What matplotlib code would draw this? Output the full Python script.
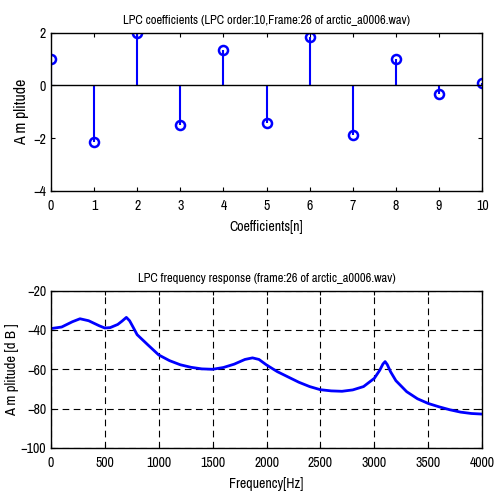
"""LPC coefficients stem plot and LPC frequency response."""

import matplotlib
matplotlib.use("Agg")
import matplotlib.pyplot as plt
import numpy as np

plt.rcParams["font.family"] = ["Archivo Narrow", "Roboto Condensed", "DejaVu Sans"]

# LPC coefficients (frame 26)
coef_idx = np.arange(0, 11)
coef_vals = [1.0, -2.14, 2.0, -1.48, 1.34, -1.44, 1.83, -1.86, 1.0, -0.33, 0.11]

# frequency response
freq_hz = [0, 100, 200, 270, 350, 450, 500, 550, 620, 660, 700, 730, 760, 800,
           900, 1000, 1100, 1200, 1300, 1400, 1500, 1600, 1700, 1800, 1870,
           1930, 2000, 2100, 2200, 2300, 2400, 2500, 2600, 2700, 2800, 2900,
           3000, 3050, 3080, 3100, 3120, 3150, 3200, 3300, 3400, 3500, 3600,
           3700, 3800, 3900, 4000]
resp_db = [-39.3, -38.5, -35.8, -34.3, -35.3, -37.9, -39.0, -38.8, -37.2, -35.5,
           -33.6, -35.3, -38.3, -42.4, -47.6, -52.7, -55.6, -57.7, -59.0, -59.8,
           -60.0, -59.1, -57.4, -55.0, -54.2, -55.0, -57.8, -61.2, -63.9, -66.6,
           -68.8, -70.4, -71.0, -71.2, -70.5, -68.8, -64.6, -60.5, -57.3, -56.1,
           -57.6, -61.2, -65.8, -71.4, -75.0, -77.4, -79.1, -80.6, -81.8, -82.5,
           -82.8]

blue = "#0000ff"
fs = 10

fig = plt.figure(figsize=(4.94, 4.96), dpi=100)

ax1 = fig.add_axes([0.103, 0.615, 0.873, 0.319])
ml, sl, bl = ax1.stem(coef_idx, coef_vals, basefmt="k-")
plt.setp(sl, color=blue, linewidth=1.5)
plt.setp(ml, color=blue, markerfacecolor="none", markeredgewidth=1.8, markersize=6.5)
plt.setp(bl, color="black", linewidth=1.0)
ax1.set_xlim(0, 10)
ax1.set_ylim(-4, 2)
ax1.set_xticks(range(0, 11))
ax1.set_yticks([-4, -2, 0, 2])
ax1.set_title("LPC coefficients (LPC order:10,Frame:26 of arctic_a0006.wav)", fontsize=fs - 1, pad=6)
ax1.set_xlabel("Coefficients[n]", fontsize=fs, labelpad=5)
ax1.set_ylabel("A m plitude", fontsize=fs + 1.5)
ax1.yaxis.set_label_coords(-0.05, 0.5)

ax2 = fig.add_axes([0.103, 0.097, 0.873, 0.317])
ax2.plot(freq_hz, resp_db, color=blue, linewidth=2)
ax2.set_xlim(0, 4000)
ax2.set_ylim(-100, -20)
ax2.set_xticks(range(0, 4001, 500))
ax2.set_yticks([-100, -80, -60, -40, -20])
ax2.grid(True, color="black", linestyle=(0, (6, 4)), linewidth=0.8)
ax2.set_title("LPC frequency response (frame:26 of arctic_a0006.wav)", fontsize=fs - 1, pad=6)
ax2.set_xlabel("Frequency[Hz]", fontsize=fs, labelpad=5)
ax2.set_ylabel("A m plitude [d B ]", fontsize=fs + 0.5)
ax2.yaxis.set_label_coords(-0.075, 0.5)

for ax in (ax1, ax2):
    ax.tick_params(direction="in", labelsize=fs, length=3, top=True, right=True)
    ax.tick_params(axis="x", pad=6)
    for s in ax.spines.values():
        s.set_linewidth(1.0)

fig.savefig("out.png", dpi=100)
plt.close(fig)
